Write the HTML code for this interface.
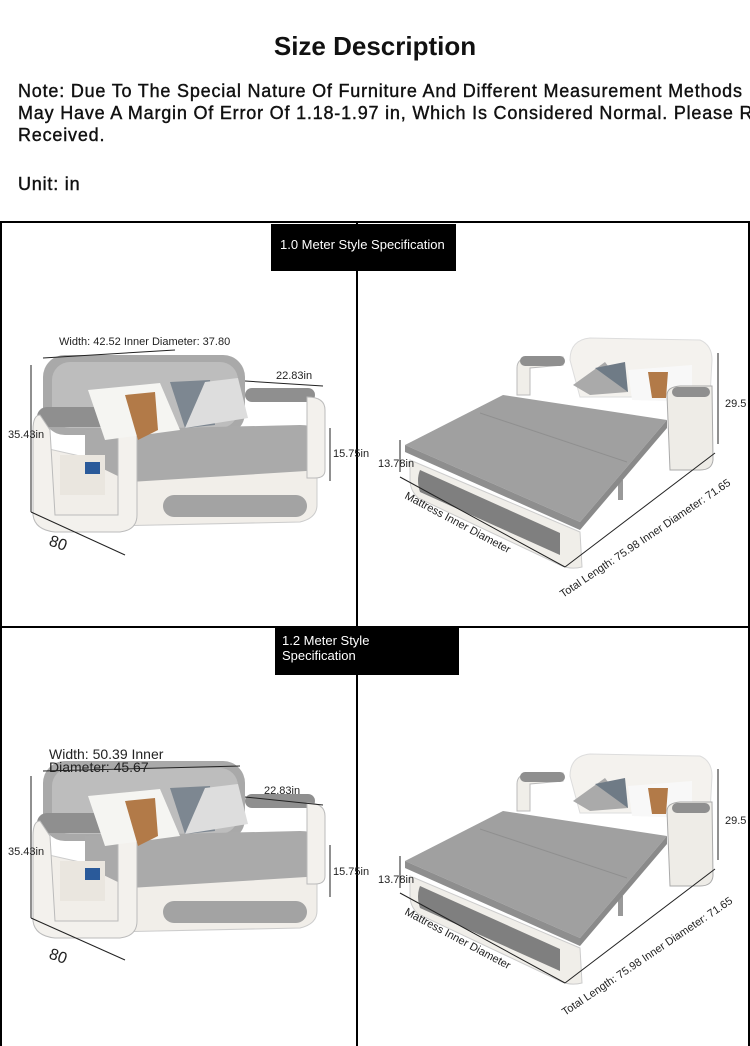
<!DOCTYPE html>
<html><head><meta charset="utf-8"><style>
body{margin:0;width:750px;height:1046px;background:#fff;position:relative;overflow:hidden;font-family:"Liberation Sans",sans-serif;color:#111}
.a{position:absolute;white-space:nowrap}
.t{left:0;width:750px;text-align:center;top:31px;font-size:26px;font-weight:bold}
.n{left:18px;font-size:18px;line-height:22px;letter-spacing:0.8px;-webkit-text-stroke:0.4px #111}
.lab{position:absolute;background:#000;color:#fff;font-size:13px;line-height:15px}
svg{position:absolute;left:0;top:0}
svg text{font-family:"Liberation Sans",sans-serif;font-size:11px;fill:#222}
</style></head><body>
<div class="a t">Size Description</div>
<div class="a n" style="top:80px">Note: Due To The Special Nature Of Furniture And Different Measurement Methods<br>May Have A Margin Of Error Of 1.18-1.97 in, Which Is Considered Normal. Please R<br>Received.</div>
<div class="a n" style="top:173px">Unit: in</div>
<svg width="750" height="1046">
<defs>
<g id="sofa">
<rect x="43" y="355" width="202" height="80" rx="22" fill="#a9a9a9"/>
<rect x="52" y="362" width="186" height="66" rx="18" fill="#bdbdbd"/>
<path d="M40 447 L40 510 Q42 527 60 527 L300 522 Q317 518 317 505 L317 470 L120 465 Z" fill="#f1eee9" stroke="#ccc"/>
<rect x="163" y="495" width="144" height="22" rx="11" fill="#a3a3a3"/>
<path d="M85 430 L300 425 Q322 425 322 440 L322 470 L130 482 L85 460 Z" fill="#aaaaaa"/>
<rect x="37" y="407" width="98" height="20" rx="10" fill="#8f8f8f"/>
<path d="M40 415 Q33 415 33 430 L33 515 Q35 530 55 532 L120 532 Q137 530 137 515 L137 430 Q137 410 120 410 L118 410 L118 515 L55 515 L50 430 Z" fill="#f3f1ed" stroke="#bbb"/>
<rect x="245" y="388" width="70" height="14" rx="7" fill="#8f8f8f"/>
<path d="M307 397 Q325 397 325 410 L325 470 Q325 478 315 478 L307 478 Z" fill="#f3f1ed" stroke="#bbb"/>
<path d="M88 390 L160 383 L180 430 L105 440 Z" fill="#f5f5f2"/>
<path d="M125 395 L155 392 L158 430 L138 440 Z" fill="#b27a48"/>
<path d="M170 382 L210 380 L215 425 L185 428 Z" fill="#7d8791"/>
<path d="M205 382 L238 378 L248 418 L185 428 Z" fill="#ddd"/>
<rect x="60" y="455" width="45" height="40" fill="#eae6df"/>
<rect x="85" y="462" width="15" height="12" fill="#2a5a9a"/>
</g>
<g id="bed">
<path d="M570 360 Q570 340 590 338 L700 340 Q712 345 712 360 L710 397 L580 397 Z" fill="#f4f2ee" stroke="#ddd"/>
<path d="M517 368 Q517 358 530 357 L563 357 L563 365 L530 368 L530 395 L517 395 Z" fill="#f0eee9" stroke="#bbb"/>
<rect x="520" y="356" width="45" height="10" rx="5" fill="#8f8f8f"/>
<path d="M573 385 L605 362 L628 392 L590 395 Z" fill="#aaa"/>
<path d="M595 368 L625 362 L628 392 Z" fill="#6f7b86"/>
<path d="M628 370 L692 365 L692 402 L632 400 Z" fill="#f8f8f8"/>
<path d="M648 372 L668 372 L666 398 L652 398 Z" fill="#b27a48"/>
<path d="M667 395 Q667 387 680 386 L712 386 L713 460 Q712 470 700 470 L670 470 Z" fill="#eeece7" stroke="#aaa"/>
<rect x="672" y="387" width="38" height="10" rx="5" fill="#8f8f8f"/>
<path d="M410 460 L580 532 L582 567 Q570 570 560 565 L418 498 Q410 490 410 480 Z" fill="#f0eee9" stroke="#ccc"/>
<path d="M420 470 L560 533 L560 555 L420 492 Q416 480 420 470 Z" fill="#7f7f7f"/>
<rect x="618" y="480" width="5" height="20" fill="#999"/>
<path d="M405 445 L503 395 L667 420 L580 522 Z" fill="#a0a0a0"/>
<path d="M405 445 L580 522 L580 530 L405 452 Z" fill="#8e8e8e"/>
<path d="M580 522 L667 420 L667 428 L580 530 Z" fill="#8a8a8a"/>
<line x1="480" y1="413" x2="627" y2="462" stroke="#909090" stroke-width="1"/>
</g>
</defs>
<g stroke="#000" stroke-width="2" fill="none">
<line x1="0" y1="222" x2="750" y2="222"/>
<line x1="1" y1="222" x2="1" y2="1046"/>
<line x1="749" y1="222" x2="749" y2="1046"/>
<line x1="357" y1="222" x2="357" y2="1046"/>
<line x1="0" y1="627" x2="750" y2="627"/>
</g>
<use href="#sofa"/>
<use href="#bed"/>
<use href="#sofa" transform="translate(0,406)"/>
<use href="#bed" transform="translate(0,416)"/>
<g stroke="#222" stroke-width="1" fill="none">
<line x1="43" y1="358" x2="175" y2="350"/><line x1="31" y1="365" x2="31" y2="512"/>
<line x1="245" y1="381" x2="323" y2="386"/><line x1="330" y1="428" x2="330" y2="481"/>
<line x1="31" y1="512" x2="125" y2="555"/><line x1="400" y1="440" x2="400" y2="472"/>
<line x1="400" y1="477" x2="565" y2="567"/><line x1="565" y1="567" x2="715" y2="453"/>
<line x1="718" y1="353" x2="718" y2="444"/>
<line x1="43" y1="771" x2="240" y2="766"/><line x1="31" y1="776" x2="31" y2="918"/>
<line x1="245" y1="797" x2="323" y2="805"/><line x1="330" y1="845" x2="330" y2="897"/>
<line x1="31" y1="918" x2="125" y2="960"/><line x1="400" y1="856" x2="400" y2="888"/>
<line x1="400" y1="893" x2="565" y2="983"/><line x1="565" y1="983" x2="715" y2="869"/>
<line x1="718" y1="769" x2="718" y2="860"/>
</g>
<text x="59" y="345">Width: 42.52 Inner Diameter: 37.80</text>
<text x="276" y="379">22.83in</text>
<text x="8" y="438">35.43in</text>
<text x="333" y="457">15.75in</text>
<text x="48" y="545" style="font-size:16px" transform="rotate(20 48 545)">80</text>
<text x="378" y="467">13.78in</text>
<text x="404" y="498" transform="rotate(28 404 498)">Mattress Inner Diameter</text>
<text x="563" y="598" transform="rotate(-34 563 598)">Total Length: 75.98 Inner Diameter: 71.65</text>
<text x="725" y="407">29.5</text>
<text x="49" y="759" style="font-size:14px">Width: 50.39 Inner</text>
<text x="49" y="772" style="font-size:14px">Diameter: 45.67</text>
<text x="264" y="794">22.83in</text>
<text x="8" y="855">35.43in</text>
<text x="333" y="875">15.75in</text>
<text x="48" y="958" style="font-size:16px" transform="rotate(20 48 958)">80</text>
<text x="378" y="883">13.78in</text>
<text x="725" y="824">29.5</text>
<text x="404" y="914" transform="rotate(28 404 914)">Mattress Inner Diameter</text>
<text x="565" y="1016" transform="rotate(-34 565 1016)">Total Length: 75.98 Inner Diameter: 71.65</text>
</svg>
<div class="lab" style="left:271px;top:224px;width:185px;height:47px;"><div style="padding:13px 0 0 9px;overflow:hidden;white-space:nowrap">1.0 Meter Style Specification</div></div>
<div class="lab" style="left:275px;top:628px;width:184px;height:47px;"><div style="padding:5px 0 0 7px">1.2 Meter Style<br>Specification</div></div>
</body></html>
